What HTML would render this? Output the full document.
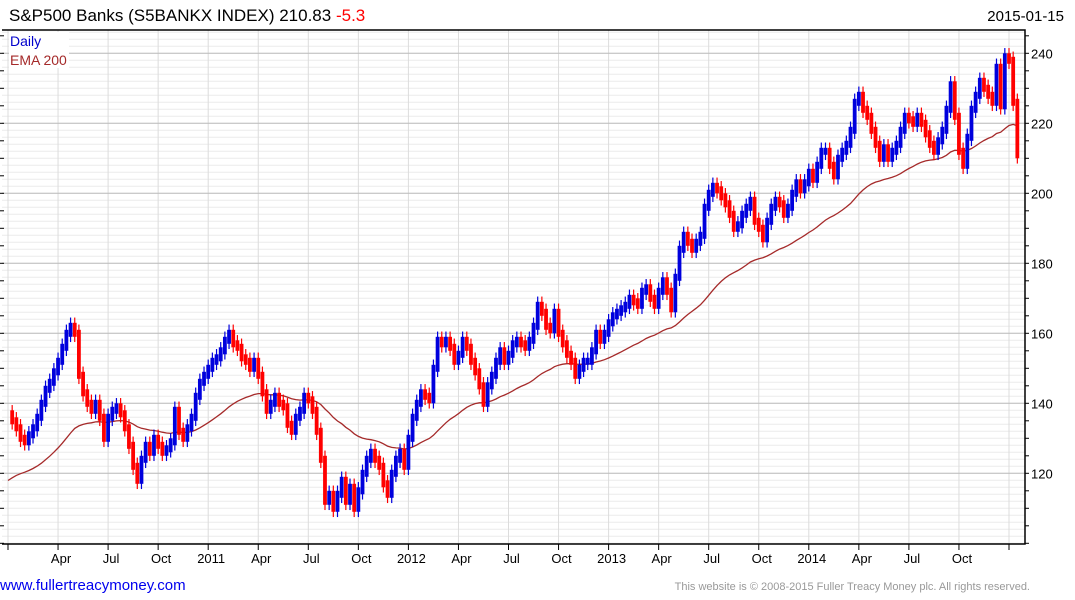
<!DOCTYPE html>
<html><head><meta charset="utf-8"><style>
body{margin:0;background:#fff;width:1075px;height:600px;overflow:hidden;font-family:"Liberation Sans",Arial,sans-serif}
svg{display:block}
</style></head><body>
<svg id="chart" width="1075" height="600" xmlns="http://www.w3.org/2000/svg">
<text x="9" y="21" font-size="17" fill="#000">S&amp;P500 Banks  (S5BANKX INDEX) 210.83 <tspan fill="#f00">-5.3</tspan></text>
<text x="1064" y="21" font-size="15" text-anchor="end" fill="#000">2015-01-15</text>
<g id="grid"></g>
<g id="ema"></g>
<g id="bars"></g>
<g id="axes"></g>
<rect x="9" y="32" width="60" height="36" fill="#fff"/>
<text x="10" y="46" font-size="14" fill="#0000cc">Daily</text>
<text x="10" y="65" font-size="14" fill="#a52a2a">EMA 200</text>
<text x="0" y="590" font-size="15" fill="#0000ee">www.fullertreacymoney.com</text>
<text x="1030" y="590" font-size="11" fill="#999" text-anchor="end">This website is © 2008-2015 Fuller Treacy Money plc. All rights reserved.</text>
</svg>
<script>
const closes2010=[137,135,133,130,129,131,133,136,140,144,146,149,152,156,160,162,160,148,143,140,138,140,136,130,136,138,139,137,133,128,122,118,124,128,126,130,128,126,127,129,138,132,130,133,136,142,146,148];
const closes2011=[150,152,153,155,158,160,157,156,153,152,150,152,148,143,138,140,142,140,139,134,132,136,138,142,141,138,132,124,112,114,110,114,118,112,116,110,115,120,124,126,124,122,117,114,120,124,126,122];
const closes2012=[130,136,140,143,142,141,150,158,157,158,156,152,154,158,156,152,149,145,140,145,148,152,155,152,154,157,158,157,156,158,162,168,166,162,161,166,160,157,154,152,148,150,152,152,155,160,158,160];
const closes2013=[163,165,166,167,168,170,169,168,172,173,170,168,172,175,172,167,176,184,188,186,184,186,188,196,200,202,201,199,197,194,190,191,194,196,198,192,190,187,192,196,198,197,194,196,200,203,201,203];
const closes2014=[206,204,208,212,212,208,205,210,212,214,218,226,228,224,222,218,214,210,213,210,212,214,218,222,221,220,222,220,217,214,212,215,218,224,231,222,212,208,216,224,228,232,230,228,226,236,225,239];
const closes2015=[238,226,211];
const yTicks=[120,140,160,180,200,220,240];
const xTickLabels=["","Apr","Jul","Oct","2011","Apr","Jul","Oct","2012","Apr","Jul","Oct","2013","Apr","Jul","Oct","2014","Apr","Jul","Oct",""];
const emaSeed=117;
const emaPeriodWeeks=42;

const closes=[].concat(closes2010,closes2011,closes2012,closes2013,closes2014,closes2015);
const NS="http://www.w3.org/2000/svg";
const X0=8,X1=1009,L=2,R=1025,T=30,B=544;
function xIdx(i){return X0+i*(X1-X0)/240;}
function yVal(v){return 53.3+(240-v)*3.5;}
function mk(tag,attrs,parent){const e=document.createElementNS(NS,tag);for(const k in attrs)e.setAttribute(k,attrs[k]);parent.appendChild(e);return e;}
const grid=document.getElementById('grid'),bars=document.getElementById('bars'),emaG=document.getElementById('ema'),axes=document.getElementById('axes');
for(let v=100;v<=246;v+=2){const y=yVal(v);if(y<T||y>B)continue;
 const l=mk('line',{x1:L,x2:R,y1:y,y2:y,stroke:'#ececec','stroke-width':1},grid);
 
 }
xTickLabels.forEach((lab,q)=>{const x=X0+q*(X1-X0)/20;
 const g=mk('line',{x1:x,x2:x,y1:T,y2:B,stroke:'#dcdcdc','stroke-width':1},grid);
 
 
 const t=mk('line',{x1:x,x2:x,y1:B,y2:B+6,stroke:'#000','stroke-width':1},axes);
 
 
 if(lab){const tx=mk('text',{x:x+3,y:B+19,'font-size':13,'text-anchor':'middle',fill:'#000'},axes);tx.textContent=lab;
 
 }
});
yTicks.forEach(v=>{const y=yVal(v);
 const l=mk('line',{x1:L,x2:R,y1:y,y2:y,stroke:'#bbbbbb','stroke-width':1},grid);
 
 
 const t=mk('text',{x:1031,y:y+5,'font-size':13,fill:'#000'},axes);t.textContent=v;
 
 });
for(let v=100;v<=246;v+=5){const y=yVal(v);if(y<T||y>B)continue;
 const t=mk('line',{x1:R,x2:R+4,y1:y,y2:y,stroke:'#000'},axes);
 
 
 const t2=mk('line',{x1:0,x2:L+2,y1:y,y2:y,stroke:'#000'},axes);
 
 }
const frame=mk('path',{d:`M${L} ${T}H${R}V${B}H${L}`,fill:'none',stroke:'#000','stroke-width':1.5},axes);


const a=2/(emaPeriodWeeks+1);let e=emaSeed;const pts=[];
closes.forEach((c,i)=>{e=e+a*(c-e);pts.push(xIdx(i).toFixed(1)+','+yVal(e).toFixed(1));});
const em=mk('polyline',{points:pts.join(' '),fill:'none',stroke:'#a52a2a','stroke-width':1.3},emaG);


for(let i=1;i<closes.length;i++){const p=closes[i-1],c=closes[i];const up=c>=p;const col=up?'#0000dd':'#ff0000';
 const hi=Math.max(p,c)+1.0,lo=Math.min(p,c)-1.0;const x=xIdx(i);
 const w=mk('line',{x1:x,x2:x,y1:yVal(hi+1.5),y2:yVal(lo-1.5),stroke:col,'stroke-width':1.2},bars);
 
 
 const r=mk('rect',{x:x-1.9,y:yVal(hi),width:3.8,height:yVal(lo)-yVal(hi),fill:col},bars);
 
 }
</script>
</body></html>
